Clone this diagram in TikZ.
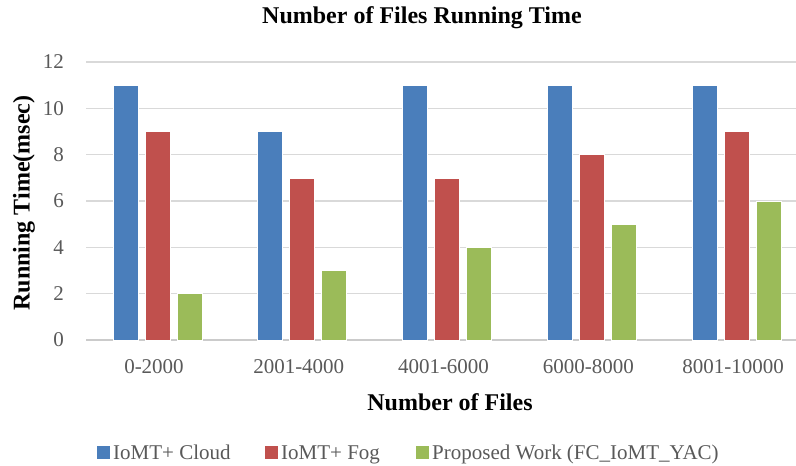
\documentclass[tikz,border=0pt]{standalone}
\usepackage{fontspec}
\setmainfont{Liberation Serif}
\usepackage{tikz}

\definecolor{cloudblue}{HTML}{4A7EBB}
\definecolor{fogred}{HTML}{C0504D}
\definecolor{workgreen}{HTML}{9BBB59}
\definecolor{ticktext}{HTML}{595959}
\definecolor{gridgrey}{HTML}{D9D9D9}

\tikzset{
  ticklabel/.style={text=ticktext,font=\fontsize{21}{24}\selectfont,inner sep=0pt},
  axtitle/.style={font=\fontsize{24}{28}\selectfont\bfseries,inner sep=0pt},
  legendtext/.style={text=ticktext,font=\fontsize{21}{24}\selectfont,inner sep=0pt,anchor=base west},
  bar/.style={draw=white,line width=0.6pt}
}

\begin{document}
\begin{tikzpicture}[x=1pt,y=-1pt]
\useasboundingbox (0,0) rectangle (796,466);

% title
\node[axtitle] (title) at (422,18) {Number of Files Running Time};

% grid and y ticks
\foreach \v in {2,4,...,12}
  \draw[gridgrey,line width=1.2pt] (86,340-\v*23.17) -- (796,340-\v*23.17);
\foreach \v in {0,2,...,12}
  \node[ticklabel,anchor=east] (tick\v) at (64,340-\v*23.17) {\v};
\draw[gridgrey!85!gray,line width=1.2pt] (86,340) -- (796,340);

% bars
\foreach \i/\c/\f/\p/\lab in {0/11/9/2/0-2000,1/9/7/3/2001-4000,2/11/7/4/4001-6000,3/11/8/5/6000-8000,4/11/9/6/8001-10000}{
  \filldraw[bar,fill=cloudblue] (113+144.75*\i,340) rectangle (138+144.75*\i,340-\c*23.17);
  \filldraw[bar,fill=fogred] (145+144.75*\i,340) rectangle (170+144.75*\i,340-\f*23.17);
  \filldraw[bar,fill=workgreen] (177+144.75*\i,340) rectangle (202+144.75*\i,340-\p*23.17);
  \node[ticklabel] (cat\i) at (154+144.75*\i,367) {\lab};
}

% axis titles
\node[axtitle] (xtitle) at (450,402) {Number of Files};
\node[axtitle,rotate=90] (ytitle) at (24,203) {Running Time(msec)};

% legend
\fill[cloudblue] (97,446) rectangle (110,459);
\node[legendtext] (legcloud) at (113,459) {IoMT+ Cloud};
\fill[fogred] (265,446) rectangle (278,459);
\node[legendtext] (legfog) at (281,459) {IoMT+ Fog};
\fill[workgreen] (416,446) rectangle (429,459);
\node[legendtext] (legwork) at (432,459) {Proposed Work (FC\_IoMT\_YAC)};
\end{tikzpicture}
\end{document}
